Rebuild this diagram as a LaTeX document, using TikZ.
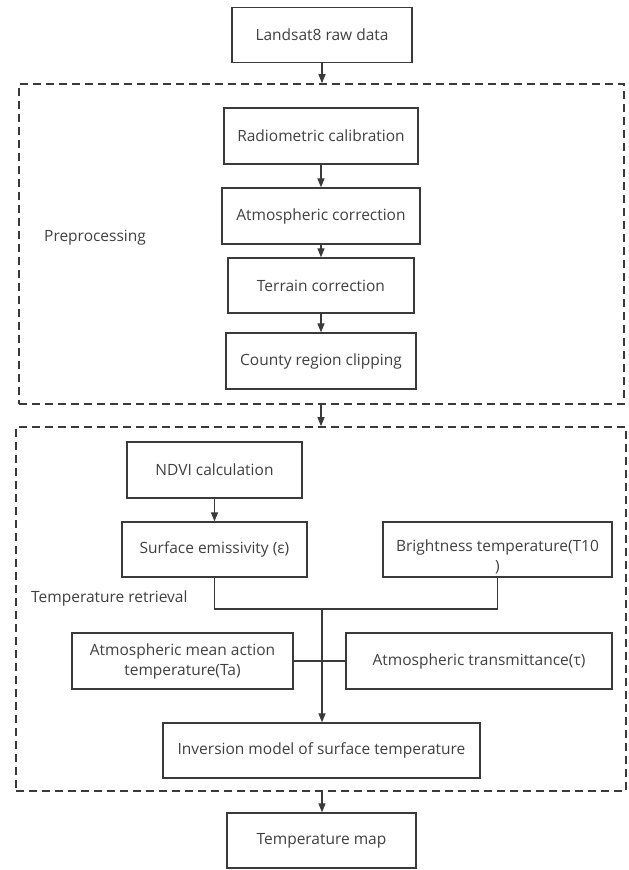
\documentclass[tikz,border=0pt]{standalone}
\usepackage{fontspec}
\setmainfont{Open Sans}
\usetikzlibrary{arrows.meta}
\definecolor{txtgray}{HTML}{404040}
\definecolor{linegray}{HTML}{3A3A3A}
\begin{document}
\begin{tikzpicture}[x=1pt,y=-1pt,
  every node/.style={font=\fontsize{15.5}{20}\selectfont, text=txtgray},
  box/.style={draw=linegray, line width=1.3pt, inner sep=0pt, minimum height=55pt, align=center},
  group/.style={draw=linegray, line width=1.6pt, dash pattern=on 8pt off 5pt, inner sep=0pt},
  arr/.style={draw=linegray, line width=1.2pt, -{Triangle[length=9pt,width=7pt]}},
  conn/.style={draw=linegray, line width=1.2pt},
  lbl/.style={inner sep=0pt, anchor=west},
]
\useasboundingbox (0,0) rectangle (629,870);
% groups
\node[group, minimum width=605pt, minimum height=320pt] (g1) at (321.5,244) {};
\node[group, minimum width=610pt, minimum height=364pt] (g2) at (321,609) {};
% boxes
\node[box, minimum width=180pt] (ls) at (322,35) {Landsat8 raw data};
\node[box, minimum width=194pt, minimum height=56pt] (rc) at (321,136) {Radiometric calibration};
\node[box, minimum width=198pt, minimum height=56pt] (ac) at (321,216) {Atmospheric correction};
\node[box, minimum width=186pt] (tc) at (321,285.5) {Terrain correction};
\node[box, minimum width=190pt, minimum height=56pt] (cc) at (321,361) {County region clipping};
\node[lbl] (pre) at (44,238) {Preprocessing};
\node[box, minimum width=175pt, minimum height=56pt] (nd) at (214.5,470) {NDVI calculation};
\node[box, minimum width=185pt] (se) at (214.5,549.5) {Surface emissivity (ε)};
\node[box, minimum width=229pt] (bt) at (497.5,549.5) {};
\node[inner sep=0pt] (btl1) at (497.5,547) {Brightness temperature(T10};
\node[inner sep=0pt] (btl2) at (497.5,567) {)};
\node[lbl] (tr0) at (31,598) {Temperature retrieval};
\node[box, minimum width=221pt, minimum height=56pt] (am) at (182.5,661) {Atmospheric mean action\\temperature(Ta)};
\node[box, minimum width=266pt, minimum height=56pt] (tr) at (479,661) {Atmospheric transmittance(τ)};
\node[box, minimum width=317pt] (inv) at (321.5,750.5) {Inversion model of surface temperature};
\node[box, minimum width=189pt] (tm) at (321.5,840.5) {Temperature map};
\coordinate (j) at (322,609);
% connectors
\draw[arr] (ls.south) -- (ls.south |- g1.north);
\draw[arr] (rc.south) -- (rc.south |- ac.north);
\draw[arr] (ac.south) -- (ac.south |- tc.north);
\draw[arr] (tc.south) -- (tc.south |- cc.north);
\draw[arr] (cc.south |- g1.south) -- (cc.south |- g2.north);
\draw[arr] (nd.south) -- (nd.south |- se.north);
\draw[conn] (se.south) |- (j) -| (bt.south);
\draw[arr] (j) -- (j |- inv.north);
\draw[conn] (am.east) -- (tr.west);
\draw[arr] (j |- g2.south) -- (j |- tm.north);
\end{tikzpicture}
\end{document}
